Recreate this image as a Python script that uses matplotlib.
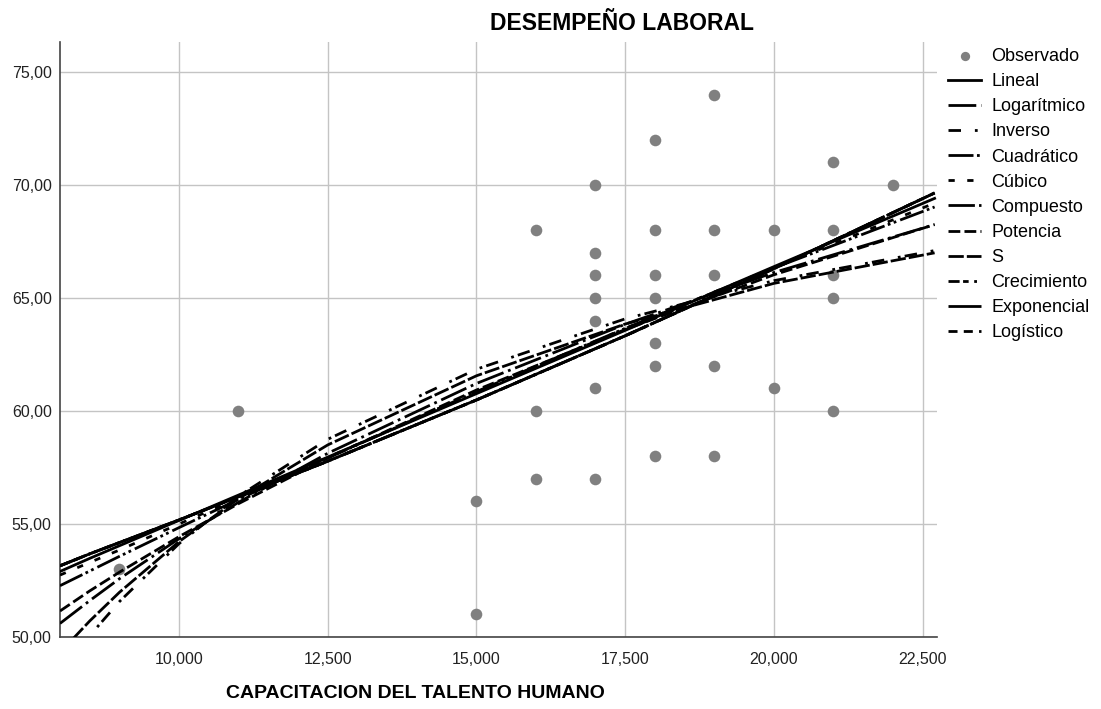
import matplotlib.pyplot as plt
from matplotlib.ticker import FuncFormatter

plt.rcParams['font.family'] = ['Liberation Sans', 'DejaVu Sans']
plt.rcParams['lines.scale_dashes'] = False

# observed cases
obs_x = [9, 11, 15, 15, 16, 16, 16,
         17, 17, 17, 17, 17, 17, 17,
         18, 18, 18, 18, 18, 18, 18,
         19, 19, 19, 19, 19, 20, 20,
         21, 21, 21, 21, 21, 22]
obs_y = [53, 60, 56, 51, 68, 60, 57,
         70, 67, 66, 65, 64, 61, 57,
         72, 68, 66, 65, 63, 62, 58,
         74, 68, 66, 62, 58, 68, 61,
         71, 68, 66, 65, 60, 70]

# estimated curves, sampled along x
curve_x = [8, 8.5, 9, 10, 11, 12.5, 15, 17.5, 20, 22.7]
lineal = [52.90, 53.48, 54.04, 55.16, 56.28, 57.96, 60.77, 63.57, 66.39, 69.41]
logaritmico = [50.60, 51.61, 52.58, 54.35, 55.96, 58.13, 61.22, 63.84, 66.13, 68.25]
inverso = [48.37, 50.06, 51.57, 54.13, 56.23, 58.75, 61.85, 64.08, 65.77, 67.10]
cuadratico = [52.27, 52.92, 53.57, 54.84, 56.09, 57.92, 60.86, 63.66, 66.33, 69.03]
cubico = [52.74, 53.30, 53.85, 55.00, 56.15, 57.95, 60.85, 63.65, 66.35, 69.20]
compuesto = [53.15, 53.68, 54.18, 55.18, 56.21, 57.78, 60.49, 63.33, 66.30, 69.65]
potencia = [51.15, 52.04, 52.87, 54.44, 55.90, 57.92, 60.93, 63.61, 66.03, 68.25]
curva_s = [49.31, 50.71, 51.98, 54.22, 56.12, 58.50, 61.56, 63.85, 65.65, 67.00]
crecimiento = compuesto
exponencial = compuesto
logistico = compuesto

curves = [
    ('Lineal', lineal, '-'),
    ('Logarítmico', logaritmico, (0, (20, 3.5, 2, 3.5))),
    ('Inverso', inverso, (0, (9, 10, 2, 3))),
    ('Cuadrático', cuadratico, (0, (18, 2.5, 2, 2.5, 2, 3))),
    ('Cúbico', cubico, (0, (4.5, 9))),
    ('Compuesto', compuesto, (0, (19, 3, 2, 3))),
    ('Potencia', potencia, (0, (8.5, 3))),
    ('S', curva_s, (0, (11, 2.2))),
    ('Crecimiento', crecimiento, (0, (8, 2.5, 4, 4, 2, 4))),
    ('Exponencial', exponencial, (0, (24, 2.5, 2, 2.5))),
    ('Logístico', logistico, (0, (6.5, 4.5))),
]

W, H = 1101, 709
fig = plt.figure(figsize=(W / 100, H / 100), dpi=100)
ax = fig.add_axes([60 / W, 1 - 637 / H, 877 / W, 595 / H])

ax.scatter(obs_x, obs_y, s=70, color='#808080', linewidths=0, zorder=3, label='Observado')
for name, vals, ls in curves:
    ax.plot(curve_x, vals, color='black', lw=2.0, linestyle=ls, label=name, zorder=4)

ax.set_xlim(8, 22.74)
ax.set_ylim(50, 76.33)
ax.set_xticks([10, 12.5, 15, 17.5, 20, 22.5])
ax.set_yticks([50, 55, 60, 65, 70, 75])
ax.xaxis.set_major_formatter(FuncFormatter(lambda v, p: f'{v:.3f}'.replace('.', ',')))
ax.yaxis.set_major_formatter(FuncFormatter(lambda v, p: f'{v:.2f}'.replace('.', ',')))
ax.tick_params(length=0, labelsize=11.5, colors='#222222')
ax.tick_params(axis='x', pad=11)
ax.tick_params(axis='y', pad=6)
ax.grid(True, color='#c4c4c4', lw=1.0)
ax.set_axisbelow(True)
for side in ['top', 'right']:
    ax.spines[side].set_visible(False)
for side in ['left', 'bottom']:
    ax.spines[side].set_color('#444444')
    ax.spines[side].set_linewidth(1.2)

fig.text(622 / W, 1 - 23 / H, 'DESEMPEÑO LABORAL', ha='center', va='center',
         fontsize=16.5, fontweight='bold')
fig.text(415 / W, 1 - 693 / H, 'CAPACITACION DEL TALENTO HUMANO', ha='center', va='center',
         fontsize=14, fontweight='bold')

ax.legend(loc='upper left', bbox_to_anchor=(948 / W, 1 - 48 / H), bbox_transform=fig.transFigure,
          frameon=False, fontsize=13, handlelength=1.85, handletextpad=0.55,
          labelspacing=0.45, borderpad=0, borderaxespad=0, scatterpoints=1, markerscale=0.8)

fig.savefig('out.png', dpi=100)
